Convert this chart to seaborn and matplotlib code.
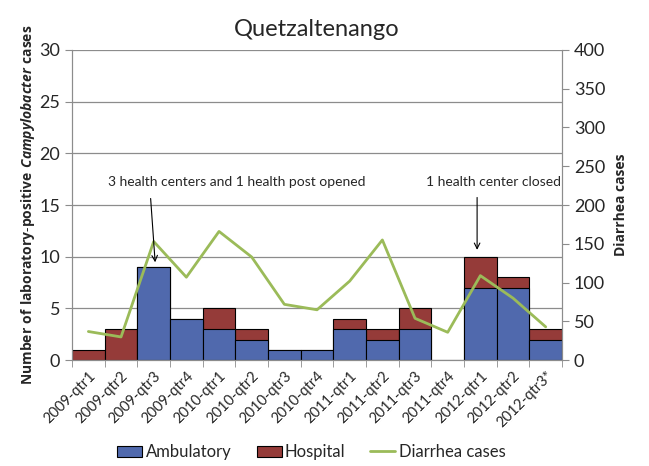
import numpy as np
import pandas as pd
import matplotlib.pyplot as plt
import seaborn as sns
from matplotlib.patches import Patch
from matplotlib.lines import Line2D

quarters = ["2009-qtr1", "2009-qtr2", "2009-qtr3", "2009-qtr4",
            "2010-qtr1", "2010-qtr2", "2010-qtr3", "2010-qtr4",
            "2011-qtr1", "2011-qtr2", "2011-qtr3", "2011-qtr4",
            "2012-qtr1", "2012-qtr2", "2012-qtr3*"]
ambulatory = [0, 0, 9, 4, 3, 2, 1, 1, 3, 2, 3, 0, 7, 7, 2]
hospital = [1, 3, 0, 0, 2, 1, 0, 0, 1, 1, 2, 0, 3, 1, 1]
diarrhea = [37, 30, 153, 107, 166, 133, 72, 65, 102, 155, 54, 36, 109, 80, 43]

sns.set_style("white")
plt.rcParams['font.family'] = ['Lato', 'DejaVu Sans']
plt.rcParams['mathtext.fontset'] = 'custom'
plt.rcParams['mathtext.bfit'] = 'Open Sans:italic:bold'
plt.rcParams['mathtext.bf'] = 'Open Sans:bold'
plt.rcParams['mathtext.rm'] = 'Open Sans'

df = pd.DataFrame({"quarter": quarters, "amb": ambulatory, "hosp": hospital,
                   "diarrhea": diarrhea})
df["total"] = df["amb"] + df["hosp"]

fig, ax = plt.subplots(figsize=(6.49, 4.66), dpi=100)
fig.subplots_adjust(left=0.111, right=0.866, bottom=0.227, top=0.893)

blue = "#5069ad"
red = "#953b39"
green = "#9bbb59"
gray = "#8c8c8c"

sns.barplot(data=df, x="quarter", y="total", color=red, width=1.0,
            edgecolor="black", linewidth=0.8, saturation=1, ax=ax)
sns.barplot(data=df, x="quarter", y="amb", color=blue, width=1.0,
            edgecolor="black", linewidth=0.8, saturation=1, ax=ax)
for p in ax.patches:
    if p.get_height() == 0:
        p.set_visible(False)

ax.set_ylim(0, 30)
ax.set_yticks(range(0, 31, 5))
ax.set_xlim(-0.5, 14.5)
ax.yaxis.grid(True, color=gray, linewidth=0.9)
ax.set_axisbelow(True)
ax.set_xlabel("")
ax.set_ylabel(r"$\mathbf{Number\ of\ laboratory\text{-}positive\ }\mathbfit{Campylobacter}\mathbf{\ cases}$",
              fontsize=10, labelpad=2)
ax.tick_params(axis="y", labelsize=13, length=5, color=gray, direction="out", left=True)
ax.set_xticks(range(len(quarters)))
ax.set_xticklabels(quarters, rotation=45, ha="right", rotation_mode="anchor", fontsize=10.5)
ax.tick_params(axis="x", which="major", length=0, pad=6)
ax.set_xticks(np.arange(-0.5, 15, 1), minor=True)
ax.tick_params(axis="x", which="minor", length=5, color=gray, bottom=True)
for side in ["left", "bottom", "right"]:
    ax.spines[side].set_color(gray)
ax.spines["top"].set_visible(False)

ax2 = ax.twinx()
sns.lineplot(x=np.arange(len(quarters)), y=diarrhea, color=green, linewidth=2,
             ax=ax2, sort=False)
ax2.set_ylim(0, 400)
ax2.set_yticks(range(0, 401, 50))
ax2.set_ylabel("Diarrhea cases", fontsize=10, fontweight="bold", family="Open Sans", labelpad=6)
ax2.tick_params(axis="y", labelsize=13, length=5, color=gray, direction="out", right=True)
for side in ["left", "bottom", "right"]:
    ax2.spines[side].set_color(gray)
ax2.spines["top"].set_visible(False)
ax2.set_xlim(-0.5, 14.5)

ax.set_title("Quetzaltenango", fontsize=17, pad=10)

ax2.text(4.55, 17.2 * 400 / 30, "3 health centers and 1 health post opened",
         ha="center", va="center", fontsize=10)
ax2.annotate("", xy=(2.05, 9.2 * 400 / 30), xytext=(1.9, 15.9 * 400 / 30),
             arrowprops=dict(arrowstyle="->", color="black", lw=0.8))
ax2.text(12.4, 17.2 * 400 / 30, "1 health center closed",
         ha="center", va="center", fontsize=10)
ax2.annotate("", xy=(11.9, 10.4 * 400 / 30), xytext=(11.9, 16.0 * 400 / 30),
             arrowprops=dict(arrowstyle="->", color="black", lw=0.8))

handles = [Patch(facecolor=blue, edgecolor="black", linewidth=0.8),
           Patch(facecolor=red, edgecolor="black", linewidth=0.8),
           Line2D([0], [0], color=green, linewidth=2)]
fig.legend(handles, ["Ambulatory", "Hospital", "Diarrhea cases"], loc="lower center",
           ncol=3, frameon=False, fontsize=12, bbox_to_anchor=(0.48, -0.02),
           handlelength=1.5, handletextpad=0.2, columnspacing=1.5)

fig.savefig("out.png", dpi=100)
